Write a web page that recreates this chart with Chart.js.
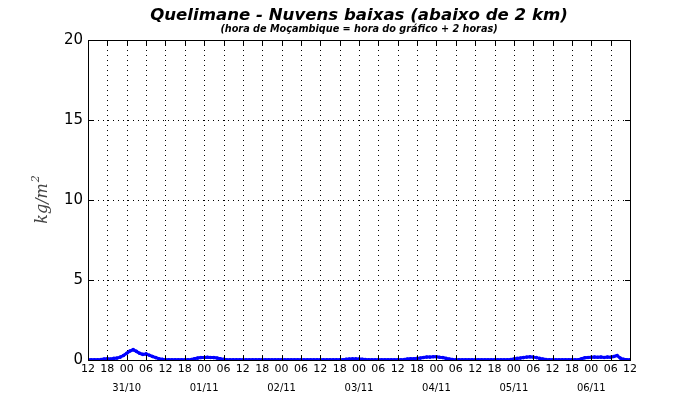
<!DOCTYPE html>
<html>
<head>
<meta charset="utf-8">
<script src="https://cdn.jsdelivr.net/npm/chart.js@4/dist/chart.umd.min.js"></script>
<style>
html,body{margin:0;padding:0;background:#fff;}
#wrap{width:700px;height:400px;position:relative;}
</style>
</head>
<body>
<div id="wrap"><canvas id="c" width="700" height="400"></canvas></div>
<script>
// Hourly values (kg/m²), from 30/10 12h to 06/11 12h
const d3010 = [0.02,0.02,0.02,0.02,0.03,0.06,0.08,0.06,0.10,0.12,0.18,0.28];
const d3110 = [0.42,0.56,0.65,0.54,0.42,0.35,0.38,0.30,0.22,0.15,0.08,0.04,
               0.02,0.02,0.02,0.02,0.02,0.02,0.02,0.02,0.03,0.08,0.12,0.15];
const d0111 = [0.16,0.17,0.16,0.15,0.12,0.08,0.04,0.02,0.02,0.02,0.02,0.02,
               0.02,0.02,0.02,0.02,0.02,0.02,0.02,0.02,0.02,0.02,0.02,0.02];
const d0211 = [0.02,0.02,0.02,0.02,0.02,0.02,0.02,0.02,0.02,0.02,0.02,0.02,
               0.02,0.02,0.02,0.02,0.02,0.02,0.02,0.02,0.04,0.06,0.07,0.07];
const d0311 = [0.06,0.05,0.03,0.02,0.02,0.02,0.02,0.02,0.02,0.02,0.02,0.02,
               0.02,0.02,0.03,0.06,0.08,0.08,0.10,0.12,0.16,0.18,0.18,0.20];
const d0411 = [0.20,0.17,0.15,0.10,0.06,0.03,0.02,0.02,0.02,0.02,0.02,0.02,
               0.02,0.02,0.02,0.02,0.02,0.02,0.02,0.02,0.02,0.02,0.02,0.03];
const d0511 = [0.06,0.10,0.12,0.15,0.18,0.20,0.18,0.15,0.10,0.06,0.03,0.02,
               0.02,0.02,0.02,0.02,0.02,0.02,0.02,0.02,0.02,0.08,0.14,0.16];
const d0611 = [0.17,0.18,0.17,0.18,0.16,0.18,0.17,0.22,0.28,0.12,0.04,0.02,0.02];

const hourTickLabels = ['12','18','00','06'];
const dateLabels = ['31/10','01/11','02/11','03/11','04/11','05/11','06/11'];
const yTicks = [0,5,10,15,20];

const titleText = 'Quelimane - Nuvens baixas (abaixo de 2 km)';
const subtitleText = '(hora de Moçambique = hora do gráfico + 2 horas)';

const allValues = [].concat(d3010,d3110,d0111,d0211,d0311,d0411,d0511,d0611);
const points = allValues.map((v,i)=>({x:i,y:v}));

const decor = {
  id:'decor',
  beforeDatasetsDraw(chart){
    const {ctx, chartArea:a, scales:{x,y}} = chart;
    ctx.save();
    ctx.strokeStyle='#000';
    ctx.lineWidth=1;
    ctx.setLineDash([1,4]);
    for(let h=6; h<168; h+=6){
      const px=Math.round(x.getPixelForValue(h))+0.5;
      ctx.beginPath(); ctx.moveTo(px,a.top); ctx.lineTo(px,a.bottom); ctx.stroke();
    }
    for(const v of yTicks){
      if(v===0||v===20) continue;
      const py=Math.round(y.getPixelForValue(v))+0.5;
      ctx.beginPath(); ctx.moveTo(a.left,py); ctx.lineTo(a.right,py); ctx.stroke();
    }
    ctx.restore();
  },
  afterDatasetsDraw(chart){
    const {ctx, chartArea:a, scales:{x,y}} = chart;
    ctx.save();
    ctx.strokeStyle='#000';
    ctx.lineWidth=1;
    ctx.setLineDash([]);
    // inward ticks
    for(let h=6; h<168; h+=6){
      const px=Math.round(x.getPixelForValue(h))+0.5;
      ctx.beginPath();
      ctx.moveTo(px,a.bottom); ctx.lineTo(px,a.bottom-5);
      ctx.moveTo(px,a.top); ctx.lineTo(px,a.top+5);
      ctx.stroke();
    }
    for(const v of yTicks){
      const py=Math.round(y.getPixelForValue(v))+0.5;
      ctx.beginPath();
      ctx.moveTo(a.left,py); ctx.lineTo(a.left+5,py);
      ctx.moveTo(a.right,py); ctx.lineTo(a.right-5,py);
      ctx.stroke();
    }
    // frame
    ctx.strokeRect(Math.round(a.left)+0.5, Math.round(a.top)+0.5,
                   Math.round(a.right-a.left), Math.round(a.bottom-a.top));
    // date labels
    ctx.fillStyle='#000';
    ctx.font='10px "DejaVu Sans"';
    ctx.textAlign='center';
    ctx.textBaseline='middle';
    dateLabels.forEach((t,i)=>{
      const px=x.getPixelForValue(12+24*i);
      ctx.fillText(t,px,388);
    });
    // titles
    const cx=(a.left+a.right)/2;
    ctx.font='italic bold 16.6px "DejaVu Sans"';
    ctx.fillText(titleText,cx,16);
    ctx.font='italic bold 9.7px "DejaVu Sans"';
    ctx.fillText(subtitleText,cx,29);
    // y axis label
    ctx.translate(43,(a.top+a.bottom)/2);
    ctx.rotate(-Math.PI/2);
    ctx.fillStyle='#444';
    ctx.font='italic 16px "DejaVu Serif"';
    ctx.textAlign='left';
    const base='kg/m';
    const wb=ctx.measureText(base).width;
    ctx.font='italic 11px "DejaVu Serif"';
    const ws=ctx.measureText('2').width;
    const start=-(wb+ws)/2;
    ctx.font='italic 16px "DejaVu Serif"';
    ctx.fillText(base,start,0);
    ctx.font='italic 11px "DejaVu Serif"';
    ctx.fillText('2',start+wb+1,-7);
    ctx.restore();
  }
};

new Chart(document.getElementById('c'),{
  type:'line',
  data:{datasets:[{
    data:points,
    borderColor:'#0000ff',
    backgroundColor:'#0000ff',
    borderWidth:3,
    pointRadius:1.8,
    pointBorderWidth:0,
    tension:0
  }]},
  options:{
    responsive:false,
    animation:false,
    events:[],
    layout:{padding:{top:40,right:70,left:0,bottom:0}},
    plugins:{legend:{display:false},tooltip:{enabled:false},title:{display:false}},
    scales:{
      x:{
        type:'linear',min:0,max:168,
        grid:{display:false,drawTicks:false},
        border:{display:false},
        afterFit(s){s.height=40;},
        afterBuildTicks(s){s.ticks=[];for(let h=0;h<=168;h+=6)s.ticks.push({value:h});},
        ticks:{
          autoSkip:false,maxRotation:0,padding:3,color:'#000',
          font:{family:'"DejaVu Sans"',size:11},
          callback:(v)=>hourTickLabels[Math.round(v/6)%4]
        }
      },
      y:{
        min:0,max:20,
        grid:{display:false,drawTicks:false},
        border:{display:false},
        afterFit(s){s.width=88;},
        afterBuildTicks(s){s.ticks=yTicks.map(v=>({value:v}));},
        ticks:{
          padding:5,color:'#000',
          font:{family:'"DejaVu Sans"',size:15}
        }
      }
    }
  },
  plugins:[decor]
});
</script>
</body>
</html>
